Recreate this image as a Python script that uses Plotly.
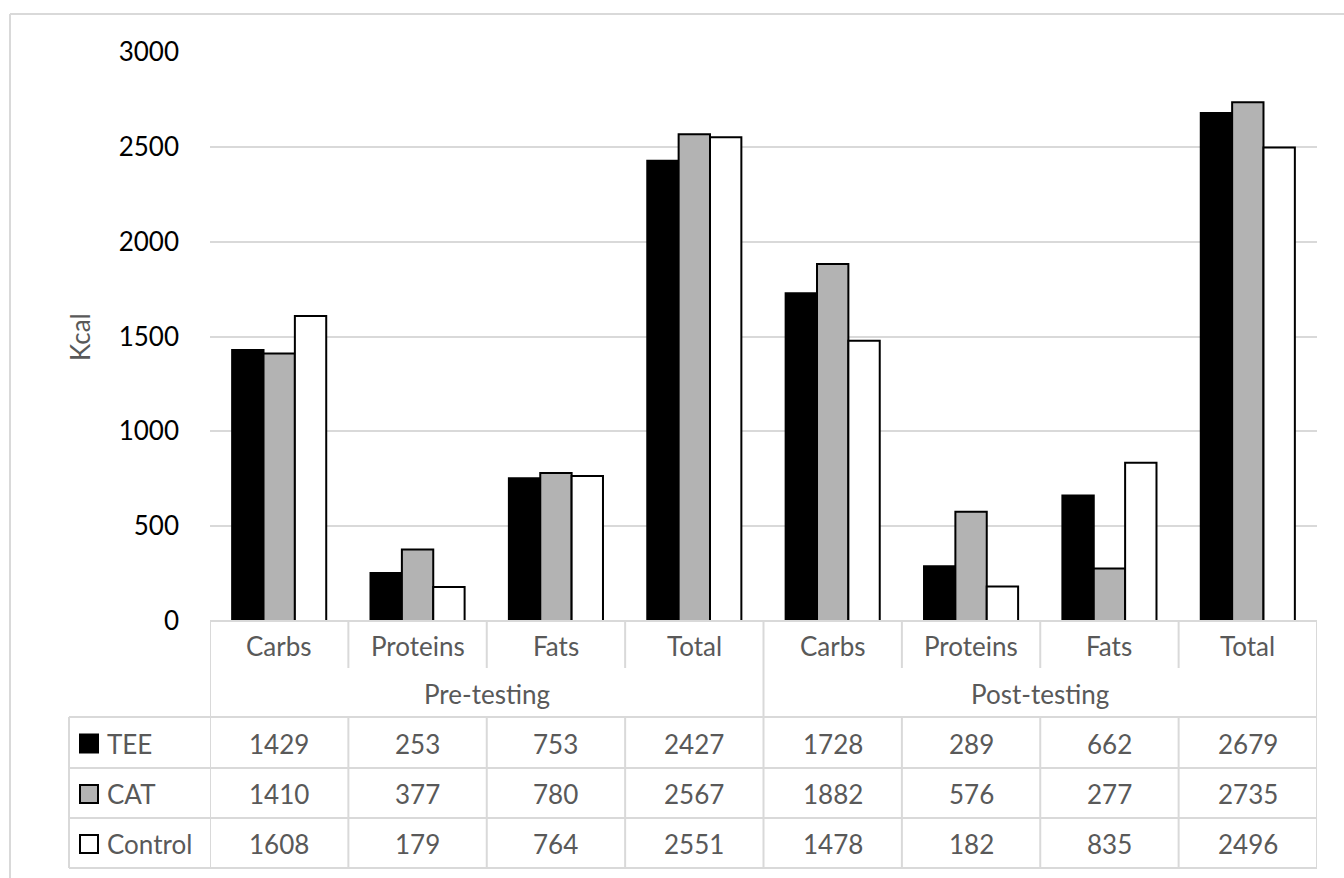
import plotly.graph_objects as go

# ---- data ----
groups = ["Pre-testing", "Post-testing"]
nutrients = ["Carbs", "Proteins", "Fats", "Total"]
series_names = ["TEE", "CAT", "Control"]
tee = [1429, 253, 753, 2427, 1728, 289, 662, 2679]
cat = [1410, 377, 780, 2567, 1882, 576, 277, 2735]
control = [1608, 179, 764, 2551, 1478, 182, 835, 2496]
y_ticks = [0, 500, 1000, 1500, 2000, 2500, 3000]

series_values = [tee, cat, control]
fills = ["#000000", "#b3b3b3", "#ffffff"]

FIG_W, FIG_H = 1344, 878
L, R, T, B = 210, 27, 52, 257
PW = FIG_W - L - R
PH = FIG_H - T - B
BASE = FIG_H - B  # pixel y of value 0

def px(xp):
    return (xp - L) / PW

def py(yp):
    return (BASE - yp) / PH

FONT = "Lato"
FS = 26
GRAY_TXT = "#595959"
LINE = "#d9d9d9"

n_cat = len(groups) * len(nutrients)
xs = list(range(n_cat))
cat_labels = [nutrients[i % len(nutrients)] for i in xs]

fig = go.Figure()
for name, vals, col in zip(series_names, series_values, fills):
    fig.add_trace(go.Bar(
        x=xs, y=vals, name=name,
        marker=dict(color=col, line=dict(color="#000000", width=2)),
        showlegend=False, hoverinfo="skip",
    ))

shapes = []
annotations = []

# outer chart border (left and top)
shapes.append(dict(type="line", xref="paper", yref="paper",
                   x0=px(10), x1=px(1344), y0=py(14), y1=py(14),
                   line=dict(color=LINE, width=2)))
shapes.append(dict(type="line", xref="paper", yref="paper",
                   x0=px(10), x1=px(10), y0=py(14), y1=py(878),
                   line=dict(color=LINE, width=2)))

# table rows (pixel y)
y_top = 621
y_cat_bottom = 668
y_grp_bottom = 717
row_edges = [717, 768, 818, 868]

# table top line
shapes.append(dict(type="line", xref="x", yref="paper",
                   x0=-0.5, x1=n_cat - 0.5, y0=py(y_top), y1=py(y_top),
                   line=dict(color=LINE, width=2)))
# data row lines
for ye in row_edges:
    shapes.append(dict(type="line", xref="paper", yref="paper",
                       x0=px(69), x1=1.0, y0=py(ye), y1=py(ye),
                       line=dict(color=LINE, width=2)))
# left column vertical line
shapes.append(dict(type="line", xref="paper", yref="paper",
                   x0=px(69), x1=px(69), y0=py(row_edges[0]), y1=py(row_edges[-1]),
                   line=dict(color=LINE, width=2)))
# vertical boundaries
for k in range(n_cat + 1):
    xb = k - 0.5
    if k % len(nutrients) == 0:
        shapes.append(dict(type="line", xref="x", yref="paper",
                           x0=xb, x1=xb, y0=py(y_top), y1=py(row_edges[-1]),
                           line=dict(color=LINE, width=2)))
    else:
        shapes.append(dict(type="line", xref="x", yref="paper",
                           x0=xb, x1=xb, y0=py(y_top), y1=py(y_cat_bottom),
                           line=dict(color=LINE, width=2)))
        shapes.append(dict(type="line", xref="x", yref="paper",
                           x0=xb, x1=xb, y0=py(row_edges[0]), y1=py(row_edges[-1]),
                           line=dict(color=LINE, width=2)))

# category labels
for i in xs:
    annotations.append(dict(x=i, y=py((y_top + y_cat_bottom) / 2 + 1), xref="x", yref="paper",
                            text=cat_labels[i], showarrow=False,
                            font=dict(family=FONT, size=FS, color=GRAY_TXT),
                            xanchor="center", yanchor="middle"))
# group labels
for g, gname in enumerate(groups):
    xc = g * len(nutrients) + (len(nutrients) - 1) / 2
    annotations.append(dict(x=xc, y=py((y_cat_bottom + y_grp_bottom) / 2 + 1), xref="x", yref="paper",
                            text=gname, showarrow=False,
                            font=dict(family=FONT, size=FS, color=GRAY_TXT),
                            xanchor="center", yanchor="middle"))
# data rows
for r, (name, vals, col) in enumerate(zip(series_names, series_values, fills)):
    yc = (row_edges[r] + row_edges[r + 1]) / 2 + 1
    for i in xs:
        annotations.append(dict(x=i, y=py(yc), xref="x", yref="paper",
                                text=str(vals[i]), showarrow=False,
                                font=dict(family=FONT, size=FS, color=GRAY_TXT),
                                xanchor="center", yanchor="middle"))
    annotations.append(dict(x=px(105), y=py(yc), xref="paper", yref="paper",
                            text=name, showarrow=False,
                            font=dict(family=FONT, size=FS, color=GRAY_TXT),
                            xanchor="left", yanchor="middle"))
    shapes.append(dict(type="rect", xref="paper", yref="paper",
                       x0=px(80), x1=px(98), y0=py(yc - 9), y1=py(yc + 9),
                       fillcolor=col, line=dict(color="#000000", width=2)))

# y axis title
annotations.append(dict(x=px(80), y=py(337), xref="paper", yref="paper",
                        text="Kcal", textangle=-90, showarrow=False,
                        font=dict(family=FONT, size=FS, color=GRAY_TXT),
                        xanchor="center", yanchor="middle"))

fig.update_layout(
    width=FIG_W, height=FIG_H,
    margin=dict(l=L, r=R, t=T, b=B, pad=0),
    paper_bgcolor="white", plot_bgcolor="white",
    barmode="group", bargap=0.32, bargroupgap=0,
    font=dict(family=FONT, size=FS, color="#000000"),
    xaxis=dict(range=[-0.5, n_cat - 0.5], showticklabels=False, showgrid=False,
               zeroline=False, showline=False, ticks=""),
    yaxis=dict(range=[0, 3000], tickvals=y_ticks, ticktext=[str(v) for v in y_ticks],
               showgrid=True, gridcolor=LINE, gridwidth=2, zeroline=False,
               showline=False, ticks="", ticklabelstandoff=30,
               tickfont=dict(family=FONT, size=FS, color="#000000")),
    shapes=shapes, annotations=annotations,
)

fig.write_html(
    "out.html",
    config={"displayModeBar": False},
    post_script="document.body.style.margin='0';document.body.style.overflow='hidden';",
)
